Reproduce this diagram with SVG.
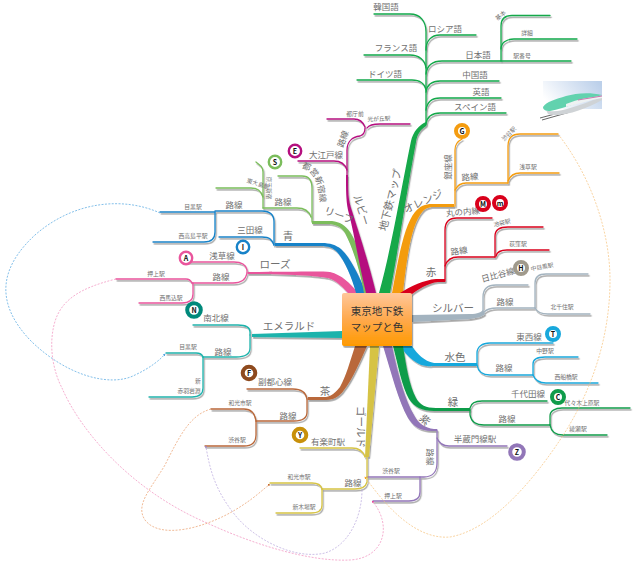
<svg xmlns="http://www.w3.org/2000/svg" width="633" height="563" viewBox="0 0 633 563">
<defs>
<linearGradient id="box" x1="0" y1="0" x2="0" y2="1"><stop offset="0" stop-color="#ffc79a"/><stop offset="0.5" stop-color="#ffa94d"/><stop offset="1" stop-color="#ff9a00"/></linearGradient>
<linearGradient id="sky" x1="0" y1="0.6" x2="1" y2="0.2"><stop offset="0" stop-color="#ffffff"/><stop offset="1" stop-color="#bcd0ea"/></linearGradient>
<filter id="sh" x="-5%" y="-5%" width="110%" height="110%"><feDropShadow dx="1.2" dy="1.8" stdDeviation="0.6" flood-color="#000" flood-opacity="0.35"/></filter>
<marker id="mb" markerWidth="5" markerHeight="5" refX="3" refY="2" orient="auto"><path d="M0,0L4,2L0,4Z" fill="#4da3e0"/></marker>
<marker id="mo" markerWidth="5" markerHeight="5" refX="3" refY="2" orient="auto"><path d="M0,0L4,2L0,4Z" fill="#f7a11a"/></marker>
<marker id="mp" markerWidth="4" markerHeight="4" refX="2" refY="2"><rect width="3" height="3" fill="#e8479b"/></marker>
<marker id="ml" markerWidth="4" markerHeight="4" refX="2" refY="2"><rect width="3" height="3" fill="#9e84c4"/></marker>
<marker id="mc" markerWidth="4" markerHeight="4" refX="2" refY="2"><rect width="3" height="3" fill="#c66a2c"/></marker>
<path id="arcleaf" d="M298,167C312,170 319,178 320,206"/>
</defs>
<style>
text{font-family:"Noto Sans CJK JP","Liberation Sans",sans-serif;fill:#707070;text-anchor:middle}
.l{font-size:8.5px}.s{font-size:5.8px}.m{font-size:10.5px}
.b{fill:none;stroke-width:1.3;stroke-linecap:round}
.t{stroke:none}
.d{fill:none;stroke-width:.7;stroke-dasharray:2 1.4}
.i{font-size:7px;font-weight:700;fill:#111}
.r2{fill:#fff;stroke-width:2.4}.r4{fill:#fff;stroke-width:4}
.gr{stroke:#12a84a}.go{stroke:#f49c10}.gd{stroke:#d9001b}.gs{stroke:#a3b3bf}.gw{stroke:#18a8dc}.gg{stroke:#0f9c4a}.gp{stroke:#9276b8}.gy{stroke:#d6c344}.gc{stroke:#b9683a}.ge{stroke:#1fb3ac}.gk{stroke:#e9559c}.gb{stroke:#1782c8}.gl{stroke:#7bbd5c}.gm{stroke:#b5107f}
</style>
<g id="illustration">
<rect x="543" y="81" width="59" height="28" fill="url(#sky)"/>
<path d="M540,118L566,111M542,120L570,112" stroke="#666" stroke-width="1"/>
<path d="M546,110C556,114 572,108 602,97L602,100C585,110 560,118 548,114Z" fill="#cfd3d6"/>
<path d="M543,107C546,102 556,99 566,96C576,93 590,92 602,95C585,100 565,108 550,111C546,111 543,110 543,107Z" fill="#62d2ae"/>
<path d="M566,104C578,99 590,97 602,96L602,98C590,100 578,104 566,107Z" fill="#eef2f2"/>
<path d="M578,100L602,96" stroke="#c86aa8" stroke-width=".9"/>
</g>
<g id="connectors" filter="url(#sh)">
<path class="t" fill="#12a84a" d="M379,293C391,250 401,190 411,141C413,132 419,125 426,122L426,126C421,129 417,134 416,142C407,190 398,250 390,293Z"/>
<g class="gr">
<path class="b" d="M426,125V32C426,21 420,14 410,14H374"/>
<path class="b" d="M426,50C426,41 431,35 440,35H476"/>
<path class="b" d="M364,55H410C419,55 425,60 426,68"/>
<path class="b" d="M426,74C427,66 432,61 442,61H571"/>
<path class="b" d="M501,61V26C501,19 505,15.500 512,15.500H550"/>
<path class="b" d="M501,49C501,43 506,39 514,39H577"/>
<path class="b" d="M357,80H412C420,80 425,84 426,90"/>
<path class="b" d="M426,92C427,85 432,81 440,81H499"/>
<path class="b" d="M426,110C427,102 432,98 440,98H501"/>
<path class="b" d="M426,124C427,117 432,113 440,113H506"/>
</g>
<path class="t" fill="#f49c10" d="M392,293C398,260 404,225 415,212C420,206 425,204 432,204H454V207H434C427,207 424,209 420,215C411,228 406,262 403,293Z"/>
<g class="go">
<path class="b" d="M455,206V150C455,144 458,141 462,139"/>
<path class="b" d="M455,190C457,186 460,183 466,183H508"/>
<path class="b" d="M508,183V146C508,138 512,134 520,134H558"/>
<path class="b" d="M508,181C510,176 513,173 520,173H559"/>
</g>
<path class="t" fill="#d9001b" d="M400,293C411,286 424,280 436,279H445V282H438C428,283 418,289 407,298Z"/>
<g class="gd">
<path class="b" d="M445,281V230C445,222 449,218 457,218H492"/>
<path class="b" d="M445,266C447,260 451,257 458,257H495"/>
<path class="b" d="M495,257V236C495,230 500,227 508,227H543"/>
<path class="b" d="M496,256C497,252 501,250 507,250H549"/>
</g>
<path class="t" fill="#a3b3bf" d="M412,315L470,314C478,314 481,312 483,310L485,314C483,316 478,318 470,319L412,322Z"/>
<g class="gs">
<path class="b" d="M483,312V297C483,289 488,285 496,285H528"/>
<path class="b" d="M484,312C486,310 490,308 497,308H535"/>
<path class="b" d="M535,308V283C535,277 539,274 546,274H588"/>
<path class="b" d="M535,308C537,312 541,314 548,314H590"/>
</g>
<path class="t" fill="#18a8dc" d="M412,346C417,354 424,361 434,363H477V366H432C420,368 408,358 400,346Z"/>
<g class="gw">
<path class="b" d="M477,365V353C477,347 482,343 490,343H553"/>
<path class="b" d="M477,365C478,371 482,375 490,375H533"/>
<path class="b" d="M533,375V364C533,360 537,357 545,357H578"/>
<path class="b" d="M533,375C535,380 539,383 546,383H598"/>
</g>
<path class="t" fill="#0f9c4a" d="M403,346C406,365 409,385 416,398C420,405 426,408 436,408H470V411H434C422,411 414,407 409,399C402,387 398,365 393,346Z"/>
<g class="gg">
<path class="b" d="M470,410V408C471,403 475,401 482,401H547"/>
<path class="b" d="M470,410V415C471,421 475,425 484,425H550"/>
<path class="b" d="M550,425V416C550,411 555,408 562,408H630"/>
<path class="b" d="M550,425C551,431 555,435 563,435H607"/>
</g>
<path class="t" fill="#9276b8" d="M392,346C398,375 405,400 414,415C418,423 425,428 434,429H437V431H432C420,431 413,426 408,418C398,400 392,375 383,346Z"/>
<g class="gp">
<path class="b" d="M437,430V463C437,472 432,477 424,477H367"/>
<path class="b" d="M437,438C439,443 442,446 449,446H507"/>
<path class="b" d="M420,477V492C420,498 416,501 409,501H373"/>
</g>
<path class="t" fill="#d6c344" d="M379,346L369,457H365L370,346Z"/>
<g class="gy">
<path class="b" d="M367,455V482C366,486 362,489 355,489H322"/>
<path class="b" d="M365,457C363,451 359,448 352,448H300"/>
<path class="b" d="M322,489C321,485 318,483 312,483H270"/>
<path class="b" d="M322,489V505C322,510 319,513 311,513H276"/>
</g>
<path class="t" fill="#b9683a" d="M367,346C360,362 352,380 344,390C340,396 334,400 326,400H308V397H326C332,396 336,392 340,387C346,376 350,362 355,346Z"/>
<g class="gc">
<path class="b" d="M307,399C306,393 302,389 293,389H247"/>
<path class="b" d="M307,399V412C307,418 302,421 294,421H256"/>
<path class="b" d="M256,421C255,414 252,409 244,409H211"/>
<path class="b" d="M256,421V435C256,442 252,446 244,446H205"/>
</g>
<path class="t" fill="#1fb3ac" d="M342,331L252,334V337L342,338Z"/>
<g class="ge">
<path class="b" d="M250,335V332C250,328 246,325 238,325H193"/>
<path class="b" d="M250,335V348C250,354 245,357 236,357H203"/>
<path class="b" d="M203,357C202,354 200,353 196,353H166"/>
<path class="b" d="M203,357V388C203,394 199,397 192,397H149"/>
</g>
<path class="t" fill="#e9559c" d="M358,293C350,283 342,275 330,272C320,271 290,272 248,272V274C290,274 318,276 328,278C338,281 344,289 348,293Z"/>
<g class="gk">
<path class="b" d="M247,273V270C246,265 243,262 234,262H187"/>
<path class="b" d="M247,273C246,279 242,283 233,283H192"/>
<path class="b" d="M192,283C191,281 190,279 186,279H116"/>
<path class="b" d="M193,283V294C193,300 189,303 182,303H139"/>
</g>
<path class="t" fill="#1782c8" d="M366,293C360,278 351,258 341,249C336,245 330,243 322,243H275V246H320C329,246 333,248 337,252C345,261 352,278 356,293Z"/>
<g class="gb">
<path class="b" d="M274,245V222C274,215 270,211 262,211H215"/>
<path class="b" d="M274,245C272,240 270,237 262,237H219"/>
<path class="b" d="M215,212H160"/>
<path class="b" d="M215,212V232C215,238 212,242 204,242H153"/>
</g>
<path class="t" fill="#7bbd5c" d="M374,293C368,270 358,245 350,232C345,225 340,222 332,221H312V224H330C338,225 342,228 345,233C352,246 360,270 364,293Z"/>
<g class="gl">
<path class="b" d="M312,222V188C312,181 309,176 302,176H278"/>
<path class="b" d="M311,217C309,211 305,208 297,208H263"/>
<path class="b" d="M263,208V172C263,167 260,165 256,162"/>
<path class="b" d="M263,197C261,191 258,188 251,188H216"/>
</g>
<path class="t" fill="#b5107f" d="M376,293C368,260 358,230 351,208C348,198 348,190 348,175H346C346,190 346,200 348,210C354,232 358,260 366,293Z"/>
<g class="gm">
<path class="b" d="M347,176V150C347,142 352,137 360,136C363,135 365,132 365,128"/>
<path class="b" d="M365,127C363,122 360,119 354,119H327"/>
<path class="b" d="M367,128C369,125 373,124 380,124H410"/>
<path class="b" d="M347,170C345,164 341,161 334,161H298"/>
</g>
</g>
<g id="links">
<path class="d" stroke="#4da3e0" marker-end="url(#mb)" d="M160,213C125,197 75,200 35,235C-3,270 -3,305 30,340C65,375 110,388 135,375C150,368 160,360 165,354"/>
<path class="d" stroke="#f08cbc" marker-end="url(#mp)" d="M116,279C80,288 60,300 54,325C48,350 55,375 62,388C80,430 130,490 207,523C255,545 310,562 350,560C385,558 392,525 373,502"/>
<path class="d" stroke="#b7a6dc" marker-end="url(#ml)" d="M362,490C362,515 350,545 325,553C295,560 255,540 235,515C215,490 210,470 206,447"/>
<path class="d" stroke="#ea9c68" marker-end="url(#mc)" d="M211,409C190,415 180,435 165,465C150,490 135,505 145,520C160,540 205,528 235,510C255,498 262,490 269,485"/>
<path class="d" stroke="#f7c27a" marker-end="url(#mo)" d="M558,134C590,175 610,230 610,280C610,340 590,395 560,440C530,485 490,530 450,537C415,540 385,505 365,477"/>
</g>
<g id="center">
<rect x="342" y="293" width="70" height="53" rx="2" fill="url(#box)" filter="url(#sh)"/>
<text x="377" y="314.500" font-size="10.500" style="fill:#333">東京地下鉄</text>
<text x="377" y="330.500" font-size="10.500" style="fill:#333">マップと色</text>
</g>
<g id="map"><text class="m" transform="translate(390,200) rotate(-76)" y="4">地下鉄マップ</text>
<text class="l" x="386" y="10">韓国語</text><text class="l" x="445" y="32">ロシア語</text><text class="l" x="396" y="51">フランス語</text><text class="l" x="478" y="58">日本語</text><text class="l" x="385" y="77">ドイツ語</text><text class="l" x="475" y="78">中国語</text><text class="l" x="481" y="95">英語</text><text class="l" x="475" y="110">スペイン語</text>
<text class="s" transform="translate(502,17) rotate(-40)">基本</text><text class="s" x="527" y="35">詳細</text><text class="s" x="522" y="58">駅番号</text></g>
<g id="ruby"><text class="m" transform="translate(362,210) rotate(72)" y="4">ルビー</text>
<text class="l" transform="translate(343,139) rotate(-70)" y="3">路線</text><text class="l" x="326" y="158">大江戸線</text><text class="s" x="355" y="116">都庁前</text><text class="s" x="379" y="121" transform="rotate(-3 379 121)">光が丘駅</text></g>
<g id="nodeE"><circle cx="295" cy="151" r="6.200" class="r2 gm"/><text class="i" x="295" y="153.500">E</text></g>
<g id="leaf"><text class="m" transform="translate(339,215) rotate(20)" y="4">リーフ</text><text class="l" x="283" y="205">路線</text>
<text class="l"><textPath href="#arcleaf" startOffset="50%">都営新宿線</textPath></text>
<text class="s" transform="translate(258,184) rotate(18)" y="2">東大島駅</text><text class="s" transform="translate(269,188) rotate(90)" y="2">京王新宿</text></g>
<g id="nodeS"><circle cx="275" cy="162" r="6.200" class="r2 gl"/><text class="i" x="275" y="164.500">S</text></g>
<g id="blue"><text class="m" x="288" y="240">青</text><text class="l" x="250" y="233">三田線</text><text class="l" x="234" y="208">路線</text><text class="s" x="193" y="209">目黒駅</text><text class="s" x="193" y="238">西高島平駅</text></g>
<g id="nodeI"><circle cx="243" cy="247" r="6.200" class="r2 gb"/><text class="i" x="243" y="249.500">I</text></g>
<g id="rose"><text class="m" x="275" y="268">ローズ</text><text class="l" x="222" y="259">浅草線</text><text class="l" x="221" y="280">路線</text><text class="s" x="156" y="276">押上駅</text><text class="s" x="171" y="300">西馬込駅</text></g>
<g id="nodeA"><circle cx="186" cy="258" r="6.200" class="r2 gk"/><text class="i" x="186" y="260.500">A</text></g>
<g id="emerald"><text class="m" x="289" y="330">エメラルド</text><text class="l" x="216" y="321">南北線</text><text class="l" x="223" y="355">路線</text><text class="s" x="188" y="349">目黒駅</text><text class="s" x="198" y="383">新</text><text class="s" x="189" y="393">赤羽岩淵</text></g>
<g id="nodeN"><circle cx="194" cy="310" r="6.800" class="r4" stroke="#00897b"/><text class="i" x="194" y="312.500">N</text></g>
<g id="brown"><text class="m" x="325" y="395">茶</text><text class="l" x="275" y="385">副都心線</text><text class="l" x="288" y="419">路線</text><text class="s" x="240" y="405">和光市駅</text><text class="s" x="237" y="442">渋谷駅</text></g>
<g id="nodeF"><circle cx="249" cy="373" r="6.300" class="r4" stroke="#8e4a1e"/><text class="i" x="249" y="375.500">F</text></g>
<g id="gold"><text class="m" transform="translate(361,427) rotate(90)" y="4">ゴールド</text><text class="l" x="328" y="445">有楽町駅</text><text class="l" x="353" y="486">路線</text><text class="s" x="299" y="479">和光市駅</text><text class="s" x="304" y="509">新木場駅</text></g>
<g id="nodeY"><circle cx="300" cy="435" r="6.300" class="r4" stroke="#c8900a"/><text class="i" x="300" y="437.500">Y</text></g>
<g id="purple"><text class="m" transform="translate(425,420) rotate(45)" y="4">紫</text><text class="l" x="475" y="442">半蔵門線駅</text><text class="l" transform="translate(430,457) rotate(90)" y="3">路線</text><text class="s" x="391" y="473">渋谷駅</text><text class="s" x="393" y="498">押上駅</text></g>
<g id="nodeZ"><circle cx="517" cy="452" r="6.800" class="r4 gp"/><text class="i" x="517" y="454.500">Z</text></g>
<g id="greenline"><text class="m" x="453" y="406">緑</text><text class="l" x="528" y="397">千代田線</text><text class="l" x="507" y="422">路線</text><text class="s" x="582" y="405">代々木上原駅</text><text class="s" x="578" y="431">綾瀬駅</text></g>
<g id="nodeC"><circle cx="558" cy="397" r="6" class="r4 gg"/><text class="i" x="558" y="399.500">C</text></g>
<g id="water"><text class="m" x="455" y="361">水色</text><text class="l" x="529" y="340">東西線</text><text class="l" x="504" y="371">路線</text><text class="s" x="545" y="353">中野駅</text><text class="s" x="566" y="379">西船橋駅</text></g>
<g id="nodeT"><circle cx="553" cy="334" r="6" class="r4 gw"/><text class="i" x="553" y="336.500">T</text></g>
<g id="silver"><text class="m" x="453" y="312">シルバー</text><text class="l" transform="translate(498,275) rotate(-15)" y="3">日比谷線</text><text class="l" x="505" y="305">路線</text><text class="s" transform="translate(542,267) rotate(-10)" y="2">中目黒駅</text><text class="s" x="562" y="309">北千住駅</text></g>
<g id="nodeH"><circle cx="521" cy="268" r="6" class="r4" stroke="#a09a8c"/><text class="i" x="521" y="270.500">H</text></g>
<g id="red"><text class="m" x="431" y="276">赤</text><text class="l" transform="translate(463,212) rotate(-5)" y="3">丸の内線</text><text class="l" transform="translate(459,251) rotate(-8)" y="3">路線</text><text class="s" transform="translate(502,223) rotate(-12)" y="2">池袋駅</text><text class="s" x="518" y="246">荻窪駅</text></g>
<g id="nodeM"><circle cx="483" cy="204" r="6" class="r4 gd"/><text class="i" x="483" y="206.500">M</text></g>
<g id="nodeMm"><circle cx="500" cy="203" r="6" class="r4 gd"/><text class="i" x="500" y="205.500">m</text></g>
<g id="orange"><text class="m" transform="translate(423,201) rotate(-25)" y="4">オレンジ</text><text class="l" transform="translate(448,167) rotate(-90)" y="3">銀座線</text><text class="l" transform="translate(470,177) rotate(-5)" y="3">路線</text><text class="s" transform="translate(509,134) rotate(-45)" y="2">渋谷駅</text><text class="s" x="528" y="169">浅草駅</text></g>
<g id="nodeG"><circle cx="462" cy="131" r="6" class="r4 go"/><text class="i" x="462" y="133.500">G</text></g>
</svg>
